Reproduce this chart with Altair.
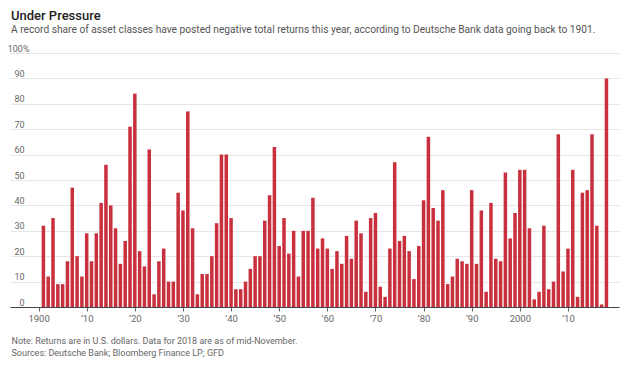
import altair as alt
import pandas as pd

years = list(range(1901, 2019))
values = [
    # 1901-1910
    32, 12, 35, 9, 9, 18, 47, 20, 12, 29,
    # 1911-1920
    18, 29, 41, 56, 40, 31, 17, 26, 71, 84,
    # 1921-1930
    22, 16, 62, 5, 18, 23, 10, 10, 45, 38,
    # 1931-1940
    77, 31, 5, 13, 13, 20, 33, 60, 60, 35,
    # 1941-1950
    7, 7, 10, 15, 20, 20, 34, 44, 63, 24,
    # 1951-1960
    35, 21, 30, 12, 30, 30, 43, 23, 27, 23,
    # 1961-1970
    15, 22, 17, 28, 19, 34, 29, 6, 35, 37,
    # 1971-1980
    8, 4, 23, 57, 26, 28, 22, 11, 24, 42,
    # 1981-1990
    67, 39, 34, 46, 9, 12, 19, 18, 17, 46,
    # 1991-2000
    17, 38, 6, 41, 19, 18, 53, 27, 37, 54,
    # 2001-2010
    54, 31, 3, 6, 32, 7, 10, 68, 14, 23,
    # 2011-2018
    54, 4, 45, 46, 68, 32, 1, 90,
]
x_ticks = [1900, 1910, 1920, 1930, 1940, 1950, 1960, 1970, 1980, 1990, 2000, 2010]
y_ticks = [0, 10, 20, 30, 40, 50, 60, 70, 80, 90, 100]

title_text = "Under Pressure"
subtitle_text = ("A record share of asset classes have posted negative total returns this year, "
                 "according to Deutsche Bank data going back to 1901.")
notes = ["Note: Returns are in U.S. dollars. Data for 2018 are as of mid-November.",
         "Sources: Deutsche Bank; Bloomberg Finance LP; GFD"]

df = pd.DataFrame({"year": years, "share": values})

FONT = "Roboto"

chart = alt.Chart(df).mark_bar(size=3.5, color="#c8303e").encode(
    x=alt.X(
        "year:Q",
        scale=alt.Scale(domain=[1895.1, 2019.57], nice=False, zero=False),
        axis=alt.Axis(
            values=x_ticks,
            labelExpr="(datum.value == 1900 || datum.value == 2000) ? toString(datum.value) : '\u2019' + slice(toString(datum.value), 2)",
            grid=False,
            domainColor="#444",
            domainWidth=1,
            tickColor="#666",
            tickSize=4,
            labelFont=FONT,
            labelFontSize=9.5,
            labelColor="#666",
            labelPadding=2,
            title=notes,
            titleFont=FONT,
            titleFontSize=9,
            titleFontWeight="normal",
            titleColor="#666",
            titleAlign="left",
            titleAnchor="start",
            titleBaseline="alphabetic",
            titleX=1,
            titleY=36,
            titleLineHeight=12.5,
            zindex=1,
        ),
    ),
    y=alt.Y(
        "share:Q",
        scale=alt.Scale(domain=[0, 100], nice=False),
        axis=alt.Axis(
            values=y_ticks,
            labelExpr="datum.value == 100 ? '100%' : datum.label",
            domain=False,
            ticks=False,
            tickSize=0,
            gridColor="#e6e6e6",
            gridWidth=1,
            labelFont=FONT,
            labelFontSize=9,
            labelColor="#666",
            labelAlign="right",
            labelBaseline="alphabetic",
            labelPadding={"condition": {"test": "datum.value == 100", "value": -19}, "value": -14},
            labelOffset=-2,
            title=None,
        ),
    ),
).properties(
    width=609,
    height=254,
    autosize=alt.AutoSizeParams(type="none"),
    padding={"left": 2, "top": 45, "right": 8, "bottom": 51},
    title=alt.TitleParams(
        text=title_text,
        subtitle=subtitle_text,
        anchor="start",
        frame="group",
        font=FONT,
        fontSize=13,
        fontWeight=500,
        color="#222",
        subtitleFont=FONT,
        subtitleFontSize=10.2,
        subtitleColor="#555",
        subtitlePadding=2,
        offset=9,
        dx=1,
    ),
).configure_view(stroke=None)

chart.save("out.html", embed_options={"renderer": "svg", "actions": False})
